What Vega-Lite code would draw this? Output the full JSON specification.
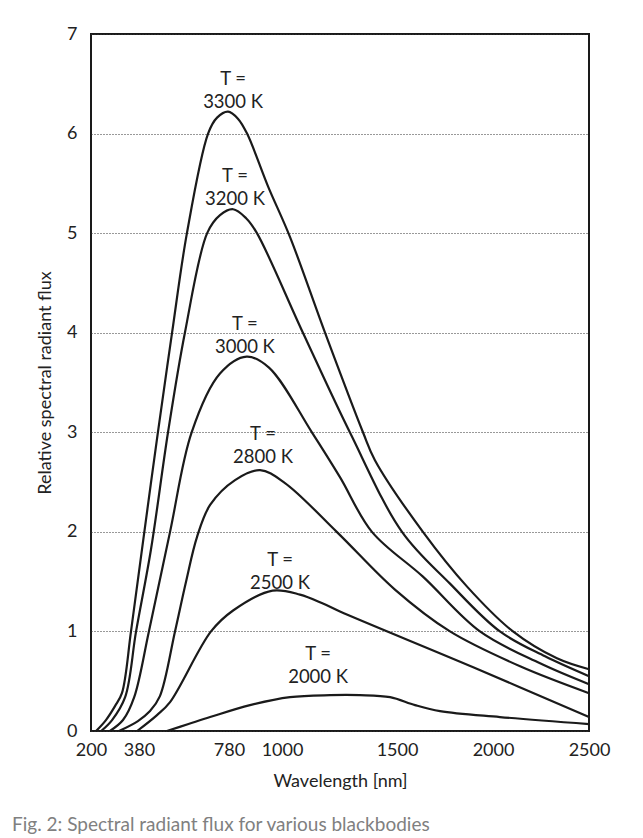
{
  "$schema": "https://vega.github.io/schema/vega-lite/v6.json",
  "autosize": {"type": "none"},
  "padding": {"left": 91, "top": 34, "right": 54, "bottom": 107},
  "width": 498,
  "height": 697,
  "background": "white",
  "config": {"view": {"stroke": "#1a1a1a", "strokeWidth": 2}, "font": "Lato"},
  "title": {"text": "Fig. 2: Spectral radiant flux for various blackbodies", "orient": "bottom", "anchor": "start", "frame": "group", "dx": -79, "offset": 26, "fontSize": 19, "fontWeight": "normal", "color": "#808080"},
  "datasets": {
    "curves": [
      {"T": "3300 K", "wl": 219, "flux": 0}, {"T": "3300 K", "wl": 256, "flux": 0.11}, {"T": "3300 K", "wl": 290, "flux": 0.25}, {"T": "3300 K", "wl": 316, "flux": 0.38}, {"T": "3300 K", "wl": 350, "flux": 1.0}, {"T": "3300 K", "wl": 393, "flux": 1.82}, {"T": "3300 K", "wl": 464, "flux": 3.0}, {"T": "3300 K", "wl": 527, "flux": 4.0}, {"T": "3300 K", "wl": 593, "flux": 5.0}, {"T": "3300 K", "wl": 687, "flux": 6.0}, {"T": "3300 K", "wl": 727, "flux": 6.16}, {"T": "3300 K", "wl": 776, "flux": 6.22}, {"T": "3300 K", "wl": 817, "flux": 6.15}, {"T": "3300 K", "wl": 855, "flux": 6.0}, {"T": "3300 K", "wl": 942, "flux": 5.47}, {"T": "3300 K", "wl": 1035, "flux": 4.96}, {"T": "3300 K", "wl": 1187, "flux": 4.0}, {"T": "3300 K", "wl": 1352, "flux": 3.0}, {"T": "3300 K", "wl": 1404, "flux": 2.72}, {"T": "3300 K", "wl": 1635, "flux": 2.0}, {"T": "3300 K", "wl": 1865, "flux": 1.45}, {"T": "3300 K", "wl": 2104, "flux": 1.0}, {"T": "3300 K", "wl": 2333, "flux": 0.73}, {"T": "3300 K", "wl": 2500, "flux": 0.62},
      {"T": "3200 K", "wl": 238, "flux": 0}, {"T": "3200 K", "wl": 279, "flux": 0.11}, {"T": "3200 K", "wl": 328, "flux": 0.34}, {"T": "3200 K", "wl": 369, "flux": 1.0}, {"T": "3200 K", "wl": 433, "flux": 1.82}, {"T": "3200 K", "wl": 509, "flux": 3.0}, {"T": "3200 K", "wl": 584, "flux": 4.0}, {"T": "3200 K", "wl": 683, "flux": 5.0}, {"T": "3200 K", "wl": 740, "flux": 5.18}, {"T": "3200 K", "wl": 797, "flux": 5.24}, {"T": "3200 K", "wl": 851, "flux": 5.15}, {"T": "3200 K", "wl": 896, "flux": 5.0}, {"T": "3200 K", "wl": 1091, "flux": 4.0}, {"T": "3200 K", "wl": 1295, "flux": 3.0}, {"T": "3200 K", "wl": 1526, "flux": 2.0}, {"T": "3200 K", "wl": 1776, "flux": 1.48}, {"T": "3200 K", "wl": 2036, "flux": 1.0}, {"T": "3200 K", "wl": 2271, "flux": 0.75}, {"T": "3200 K", "wl": 2500, "flux": 0.55},
      {"T": "3000 K", "wl": 271, "flux": 0}, {"T": "3000 K", "wl": 320, "flux": 0.11}, {"T": "3000 K", "wl": 362, "flux": 0.34}, {"T": "3000 K", "wl": 424, "flux": 1.0}, {"T": "3000 K", "wl": 518, "flux": 2.0}, {"T": "3000 K", "wl": 614, "flux": 3.0}, {"T": "3000 K", "wl": 740, "flux": 3.59}, {"T": "3000 K", "wl": 853, "flux": 3.76}, {"T": "3000 K", "wl": 946, "flux": 3.65}, {"T": "3000 K", "wl": 1130, "flux": 3.0}, {"T": "3000 K", "wl": 1252, "flux": 2.55}, {"T": "3000 K", "wl": 1391, "flux": 2.0}, {"T": "3000 K", "wl": 1635, "flux": 1.55}, {"T": "3000 K", "wl": 1932, "flux": 1.0}, {"T": "3000 K", "wl": 2245, "flux": 0.68}, {"T": "3000 K", "wl": 2500, "flux": 0.47},
      {"T": "2800 K", "wl": 305, "flux": 0}, {"T": "2800 K", "wl": 376, "flux": 0.1}, {"T": "2800 K", "wl": 429, "flux": 0.2}, {"T": "2800 K", "wl": 473, "flux": 0.35}, {"T": "2800 K", "wl": 540, "flux": 1.0}, {"T": "2800 K", "wl": 589, "flux": 1.5}, {"T": "2800 K", "wl": 638, "flux": 1.95}, {"T": "2800 K", "wl": 696, "flux": 2.27}, {"T": "2800 K", "wl": 805, "flux": 2.52}, {"T": "2800 K", "wl": 909, "flux": 2.62}, {"T": "2800 K", "wl": 1013, "flux": 2.49}, {"T": "2800 K", "wl": 1238, "flux": 2.0}, {"T": "2800 K", "wl": 1491, "flux": 1.42}, {"T": "2800 K", "wl": 1776, "flux": 1.0}, {"T": "2800 K", "wl": 2141, "flux": 0.65}, {"T": "2800 K", "wl": 2500, "flux": 0.38},
      {"T": "2500 K", "wl": 373, "flux": 0}, {"T": "2500 K", "wl": 460, "flux": 0.16}, {"T": "2500 K", "wl": 518, "flux": 0.29}, {"T": "2500 K", "wl": 700, "flux": 1.0}, {"T": "2500 K", "wl": 797, "flux": 1.21}, {"T": "2500 K", "wl": 961, "flux": 1.41}, {"T": "2500 K", "wl": 1078, "flux": 1.37}, {"T": "2500 K", "wl": 1178, "flux": 1.28}, {"T": "2500 K", "wl": 1252, "flux": 1.2}, {"T": "2500 K", "wl": 1897, "flux": 0.64}, {"T": "2500 K", "wl": 2500, "flux": 0.14},
      {"T": "2000 K", "wl": 504, "flux": 0}, {"T": "2000 K", "wl": 600, "flux": 0.07}, {"T": "2000 K", "wl": 696, "flux": 0.14}, {"T": "2000 K", "wl": 867, "flux": 0.26}, {"T": "2000 K", "wl": 1035, "flux": 0.34}, {"T": "2000 K", "wl": 1209, "flux": 0.36}, {"T": "2000 K", "wl": 1339, "flux": 0.36}, {"T": "2000 K", "wl": 1470, "flux": 0.34}, {"T": "2000 K", "wl": 1594, "flux": 0.26}, {"T": "2000 K", "wl": 1724, "flux": 0.2}, {"T": "2000 K", "wl": 2036, "flux": 0.14}, {"T": "2000 K", "wl": 2500, "flux": 0.07}
    ],
    "labels": [
      {"label": "T =\n3300 K", "wl": 797, "flux": 6.49},
      {"label": "T =\n3200 K", "wl": 805, "flux": 5.51},
      {"label": "T =\n3000 K", "wl": 846, "flux": 4.03},
      {"label": "T =\n2800 K", "wl": 921, "flux": 2.92},
      {"label": "T =\n2500 K", "wl": 992, "flux": 1.66},
      {"label": "T =\n2000 K", "wl": 1157, "flux": 0.71}
    ]
  },
  "layer": [
    {
      "data": {"name": "curves"},
      "mark": {"type": "line", "interpolate": "catmull-rom", "color": "#1a1a1a", "strokeWidth": 2.2},
      "encoding": {
        "x": {
          "field": "wl", "type": "quantitative",
          "scale": {"type": "linear", "domain": [200, 380, 780, 1000, 1500, 2000, 2500], "range": [0, 48, 138, 191, 306, 402, 498], "nice": false, "zero": false},
          "axis": {"values": [200, 380, 780, 1000, 1500, 2000, 2500], "format": "d", "ticks": false, "domain": false, "grid": false, "labelFlush": false, "labelFontSize": 18, "labelColor": "#222", "labelPadding": 10, "title": "Wavelength [nm]", "titleFontSize": 18, "titleFontWeight": "normal", "titleColor": "#222", "titlePadding": 13}
        },
        "y": {
          "field": "flux", "type": "quantitative",
          "scale": {"domain": [0, 7], "nice": false, "zero": true},
          "axis": {"values": [0, 1, 2, 3, 4, 5, 6, 7], "format": "d", "ticks": false, "domain": false, "grid": true, "gridDash": [1, 2], "gridColor": "#333", "gridWidth": 1, "labelFlush": false, "labelFontSize": 18, "labelColor": "#222", "labelPadding": 14, "title": "Relative spectral radiant flux", "titleFontSize": 18, "titleFontWeight": "normal", "titleColor": "#222", "titlePadding": 12}
        },
        "detail": {"field": "T"}
      }
    },
    {
      "data": {"name": "labels"},
      "mark": {"type": "text", "lineBreak": "\n", "lineHeight": 23, "align": "center", "baseline": "alphabetic", "fontSize": 18.5, "color": "#222"},
      "encoding": {
        "x": {"field": "wl", "type": "quantitative"},
        "y": {"field": "flux", "type": "quantitative"},
        "text": {"field": "label"}
      }
    }
  ]
}
